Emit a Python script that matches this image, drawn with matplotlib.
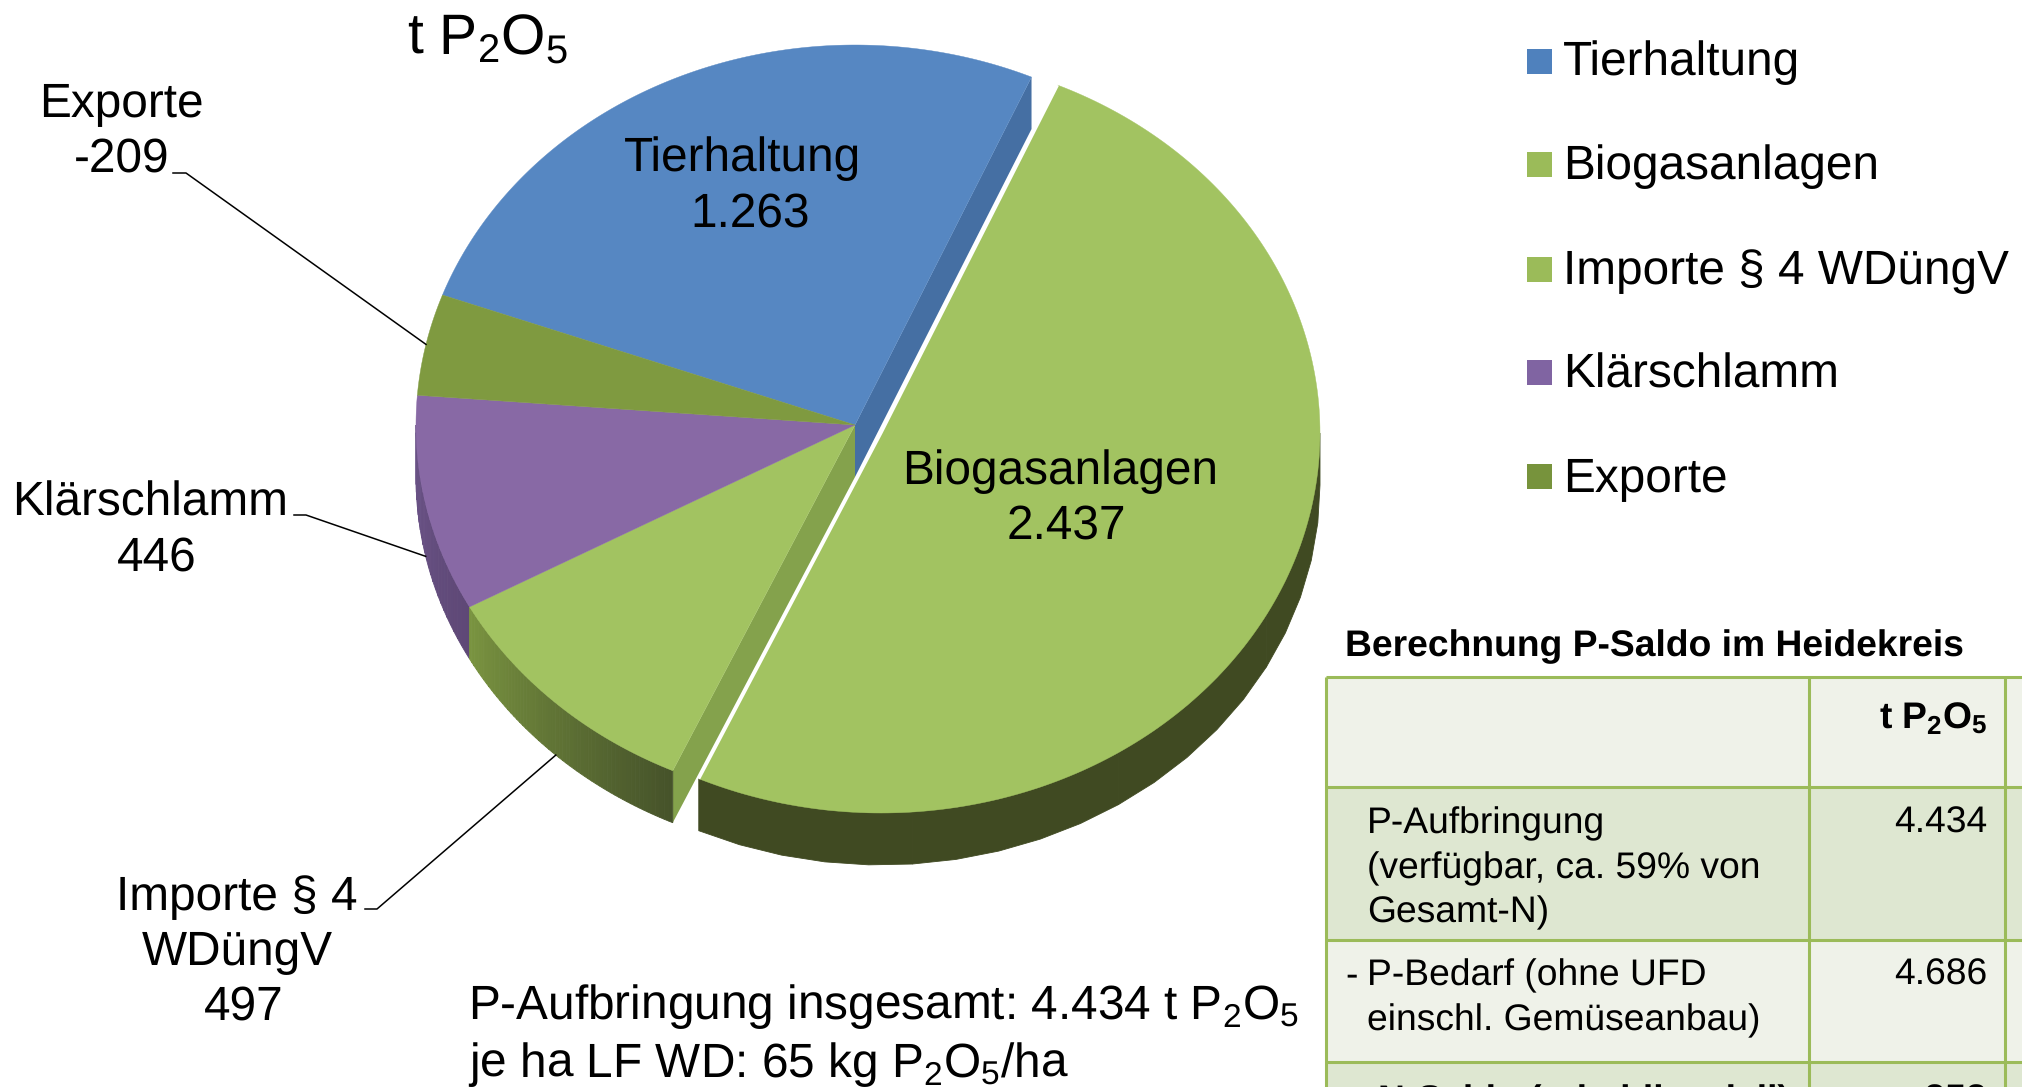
import numpy as np
import matplotlib as mpl
mpl.use("Agg")
import matplotlib.pyplot as plt
from matplotlib.patches import Rectangle
from matplotlib.colors import to_rgb

plt.rcParams["font.family"] = "Liberation Sans"
plt.rcParams["mathtext.fontset"] = "custom"
plt.rcParams["mathtext.rm"] = "Liberation Sans"
plt.rcParams["mathtext.bf"] = "Liberation Sans:bold"
plt.rcParams["mathtext.default"] = "regular"
plt.rcParams["text.hinting"] = "no_hinting"

# DATA
categories = ["Tierhaltung", "Biogasanlagen", "Importe § 4 WDüngV", "Klärschlamm", "Exporte"]
values = [1263, 2437, 497, 446, -209]

table_title = "Berechnung P-Saldo im Heidekreis"
table_header = "t P$_2$O$_5$"
table_rows = [
    ["P-Aufbringung", "(verfügbar, ca. 59% von", "Gesamt-N)"],
    ["P-Bedarf (ohne UFD", "einschl. Gemüseanbau)"],
    ["N-Saldo (rein bilanziell)"],
]
table_values = ["4.434", "4.686", "-252"]
summary_lines = [
    "P-Aufbringung insgesamt: 4.434 t P$_2$O$_5$",
    "je ha LF WD: 65 kg P$_2$O$_5$/ha",
]

# STYLE
top_colors = ["#5687c2", "#a2c361", "#a2c361", "#8869a5", "#7f9a40"]
legend_colors = ["#4f81bd", "#9bbb59", "#9bbb59", "#8064a2", "#77933c"]
line_green = "#9bbb59"
FS = 34.4

# geometry in pixels of the 2022x1087 picture
CX, CY = 855, 425
RX, RY = 439, 380
DEPTH = 52
EXPLODE = (26, 8)
START = 160.0

fig = plt.figure(figsize=(20.22, 10.87), dpi=100)
ax = fig.add_axes([0, 0, 1, 1])
ax.set_xlim(0, 2022)
ax.set_ylim(1087, 0)
ax.axis("off")


def arc(t1, t2, cx=CX, cy=CY, n=200):
    t = np.radians(np.linspace(t1, t2, n))
    return cx + RX * np.cos(t), cy - RY * np.sin(t)


def wall(t1, t2, c1, c2, cx=CX, cy=CY, strips=60):
    # outer wall of a wedge, split up in strips for the shading
    edges = np.linspace(t1, t2, strips + 1)
    c1, c2 = np.array(to_rgb(c1)), np.array(to_rgb(c2))
    for i in range(strips):
        x, y = arc(edges[i], edges[i + 1], cx, cy, 6)
        col = c1 + (c2 - c1) * i / (strips - 1)
        ax.fill(np.r_[x, x[::-1]], np.r_[y, y[::-1] + DEPTH], color=col, lw=0.6)


# wedge angles come from the values, clockwise from the Tierhaltung edge
sizes = np.abs(values)
sweep = sizes / sizes.sum() * 360
ends = START - np.cumsum(sweep)
starts = np.r_[START, ends[:-1]]

tier_a = (starts[0], ends[0])
bio_a = (starts[1], ends[1])
imp_a = (starts[2], ends[2])
klaer_a = (starts[3], ends[3])

# cut faces of the main block
tx, ty = arc(tier_a[1], tier_a[1], n=1)
ax.fill([CX, tx[0], tx[0], CX], [CY, ty[0], ty[0] + DEPTH, CY + DEPTH], color="#456fa3", lw=0)
ix, iy = arc(imp_a[0], imp_a[0], n=1)
ax.fill([CX, ix[0], ix[0], CX], [CY, iy[0], iy[0] + DEPTH, CY + DEPTH], color="#84a24c", lw=0)

# outer walls
wall(180, 360 + klaer_a[0], "#6b5388", "#5e4876", strips=25)
wall(360 + imp_a[1], 360 + imp_a[0], "#7a9440", "#46532a")

# top faces of the main block
for i in [0, 2, 3, 4]:
    x, y = arc(starts[i], ends[i])
    ax.fill(np.r_[CX, x], np.r_[CY, y], color=top_colors[i], lw=0.3)

# exploded slice, with a white seam along its cut edge
bx, by = CX + EXPLODE[0], CY + EXPLODE[1]
wall(360 + bio_a[1], 360, "#404a22", "#404a22", bx, by, strips=4)
x, y = arc(bio_a[0], bio_a[1], bx, by)
ax.fill(np.r_[bx, x], np.r_[by, y], color=top_colors[1], lw=0.3)
ax.plot([x[0], bx, x[-1]], [y[0], by, y[-1]], color="white", lw=2.2, solid_capstyle="butt")


def de(v):
    return f"{v:,}".replace(",", ".")


# labels
ax.text(407, 55, "t P$_2$O$_5$", fontsize=41, ha="left", va="baseline")
ax.text(743, 171, categories[0], fontsize=FS, ha="center", va="baseline")
ax.text(750, 227, de(values[0]), fontsize=FS, ha="center", va="baseline")
ax.text(1060, 484, categories[1], fontsize=FS, ha="center", va="baseline")
ax.text(1066, 539, de(values[1]), fontsize=FS, ha="center", va="baseline")
ax.text(121, 117, categories[4], fontsize=FS, ha="center", va="baseline")
ax.text(122, 172, de(values[4]), fontsize=FS, ha="center", va="baseline")
ax.text(150, 516, categories[3], fontsize=FS, ha="center", va="baseline")
ax.text(157, 571, de(values[3]), fontsize=FS, ha="center", va="baseline")
ax.text(237, 910, "Importe § 4", fontsize=FS, ha="center", va="baseline")
ax.text(237, 965, "WDüngV", fontsize=FS, ha="center", va="baseline")
ax.text(244, 1020, de(values[2]), fontsize=FS, ha="center", va="baseline")

# leader lines end on the middle of their wedge
for i, (x0, x1, yl) in {4: (173, 186, 173), 3: (294, 306, 515), 2: (365, 377, 909)}.items():
    mx, my = arc((starts[i] + ends[i]) / 2, (starts[i] + ends[i]) / 2, n=1)
    if my[0] > CY + 30:
        my = my + DEPTH
    ax.plot([x0, x1, mx[0]], [yl, yl, my[0]], color="black", lw=1.1, zorder=1.5 if i == 2 else 3)

# legend
legend_y = [61, 164.5, 269, 372, 476.5]
legend_base = [75, 179, 284, 388, 492]
for name, col, yc, yb in zip(categories, legend_colors, legend_y, legend_base):
    ax.add_patch(Rectangle((1527, yc - 12.5), 25, 25, color=col, lw=0))
    ax.text(1563, yb, name, fontsize=FS, ha="left", va="baseline")

# summary
ax.text(468, 1019, summary_lines[0], fontsize=FS, ha="left", va="baseline")
ax.text(468, 1077, summary_lines[1], fontsize=FS, ha="left", va="baseline")

# table
row_edges = [677, 787, 940, 1062, 1200]
col_edges = [1326, 1809, 2005, 2040]
row_fill = ["#eff2e9", "#dee7d1", "#eff2e9", "#dee7d1"]
for r, col in enumerate(row_fill):
    ax.add_patch(Rectangle((col_edges[0], row_edges[r]), col_edges[-1] - col_edges[0],
                           row_edges[r + 1] - row_edges[r], color=col, lw=0))
for y in row_edges[:-1]:
    ax.plot([col_edges[0], col_edges[-1]], [y, y], color=line_green, lw=2.2, solid_capstyle="butt")
for x in col_edges[:-1]:
    ax.plot([x, x], [row_edges[0], row_edges[-1]], color=line_green, lw=2.2, solid_capstyle="butt")

TS = 26.8
ax.text(1345, 656, table_title, fontsize=TS, fontweight="bold", ha="left", va="baseline")
ax.text(1987, 728, table_header, fontsize=TS, fontweight="bold", ha="right", va="baseline")
row_base = [[833, 878, 922], [985, 1030], [1111]]
for r, lines in enumerate(table_rows):
    weight = "bold" if r == 2 else "normal"
    for line, yb in zip(lines, row_base[r]):
        ax.text(1367 if r != 2 else 1378, yb, line, fontsize=TS, fontweight=weight, ha="left", va="baseline")
    ax.text(1987, row_base[r][0], table_values[r], fontsize=TS, fontweight=weight, ha="right", va="baseline")
ax.text(1345, 985, "-", fontsize=TS, ha="left", va="baseline")

fig.savefig("out.png", dpi=100)
